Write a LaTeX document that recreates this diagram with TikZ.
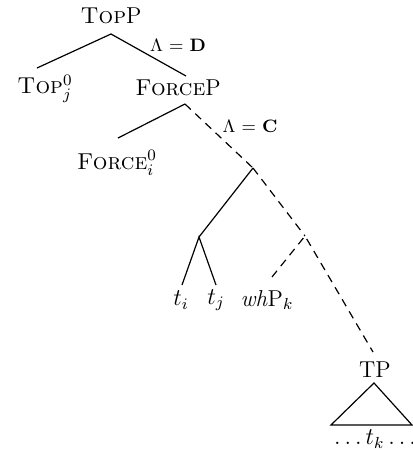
\documentclass[tikz,border=0pt]{standalone}
\begin{document}
\begin{tikzpicture}[x=0.5pt,y=-0.5pt,
  every node/.style={font=\fontsize{11.5}{14}\selectfont},
  lbl/.style={inner sep=0pt, anchor=center},
  lam/.style={inner sep=0pt, anchor=center, font=\fontsize{9}{11}\selectfont},
  br/.style={line width=0.6pt},
  dbr/.style={line width=0.6pt, dash pattern=on 4pt off 3pt}]
\useasboundingbox (0,0) rectangle (413,452);
% labels
\node[lbl] (topp) at (111,16) {\textsc{Top}P};
\node[lbl] (top0) at (45,89) {\textsc{Top}$_j^0$};
\node[lbl] (forcep) at (178,88) {\textsc{Force}P};
\node[lbl] (force0) at (117,163) {\textsc{Force}$_i^0$};
\node[lam] (ld) at (178,45) {$\Lambda$ = \textbf{D}};
\node[lam] (lc) at (250,126) {$\Lambda$ = \textbf{C}};
\node[lbl] (ti) at (181,300) {$t_i$};
\node[lbl] (tj) at (216,300) {$t_j$};
\node[lbl] (whp) at (267,300) {\textit{wh}P$_k$};
\node[lbl] (tp) at (375,370) {TP};
\node[lbl] (tk) at (375,439) {$\ldots t_k \ldots$};
% branch points
\coordinate (a) at (111,34);
\coordinate (a1) at (37,68);
\coordinate (a2) at (186,76);
\coordinate (b) at (185,104);
\coordinate (b1) at (118,138);
\coordinate (c) at (253,168);
\coordinate (d) at (199,237);
\coordinate (d1) at (182,285);
\coordinate (d2) at (216,285);
\coordinate (e) at (305,236);
\coordinate (e1) at (272,277);
\coordinate (e2) at (373,352);
\coordinate (f) at (374,383);
\coordinate (f1) at (331,425);
\coordinate (f2) at (412,425);
% connectors
\draw[br] (a1) -- (a) -- (a2);
\draw[br] (b1) -- (b);
\draw[dbr] (b) -- (c);
\draw[br] (c) -- (d);
\draw[dbr] (c) -- (e);
\draw[br] (d1) -- (d) -- (d2);
\draw[dbr] (e1) -- (e) -- (e2);
\draw[br] (f) -- (f1) -- (f2) -- cycle;
\end{tikzpicture}
\end{document}
